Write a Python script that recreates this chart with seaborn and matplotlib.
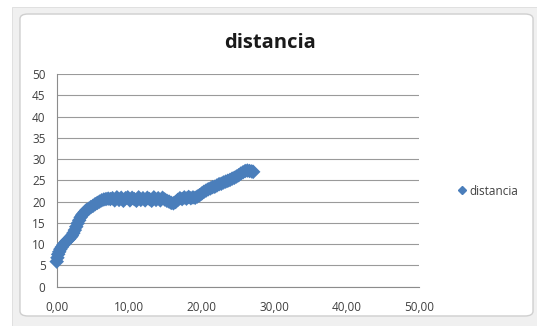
import numpy as np
import pandas as pd
import matplotlib
matplotlib.use("Agg")
import matplotlib.pyplot as plt
from matplotlib.patches import Rectangle, FancyBboxPatch
from matplotlib.ticker import FuncFormatter
import seaborn as sns

# 数据
x_vals = [0.0, 0.1, 0.2, 0.35, 0.5, 0.7, 0.9, 1.1, 1.3, 1.5, 1.7, 1.9, 2.1, 2.3, 2.5, 2.7, 2.9,
          3.1, 3.3, 3.5, 3.7, 3.9, 4.1, 4.4, 4.7, 5.0, 5.3, 5.6, 5.9, 6.2, 6.5, 6.8, 7.1, 7.4,
          7.7, 8.0, 8.3, 8.6, 8.9, 9.2, 9.5, 9.8, 10.1, 10.4, 10.7, 11.0, 11.3, 11.6, 11.9,
          12.2, 12.5, 12.8, 13.1, 13.4, 13.7, 14.0, 14.3, 14.6, 14.9, 15.2, 15.5,
          15.8, 16.1, 16.4, 16.7, 17.0, 17.3, 17.6, 17.9, 18.2, 18.5, 18.8, 19.1, 19.4,
          19.7, 20.0, 20.3, 20.6, 20.9, 21.2, 21.5, 21.8, 22.1, 22.4, 22.7, 23.0, 23.3,
          23.6, 23.9, 24.2, 24.5, 24.8, 25.1, 25.4, 25.7, 26.0, 26.3, 26.6, 26.9, 27.1]
y_vals = [5.9, 6.8, 7.6, 8.2, 8.8, 9.3, 9.8, 10.2, 10.6, 10.9, 11.2, 11.6, 12.0, 12.6, 13.3, 14.1, 14.9,
          15.6, 16.3, 16.8, 17.2, 17.6, 18.0, 18.3, 18.7, 19.0, 19.4, 19.7, 20.0, 20.3, 20.5, 20.6, 20.7, 20.6,
          20.8, 20.3, 21.0, 20.4, 20.9, 20.2, 20.8, 21.0, 20.3, 20.9, 20.6, 20.2, 21.0, 20.4, 20.8,
          20.3, 20.9, 20.6, 20.2, 21.0, 20.4, 20.8, 20.3, 20.9, 20.5, 20.2, 20.0,
          19.7, 19.6, 19.9, 20.4, 20.8, 20.6, 21.0, 20.7, 21.1, 20.8, 21.0, 20.9, 21.2,
          21.5, 21.9, 22.3, 22.6, 22.9, 23.1, 23.4, 23.5, 23.8, 24.1, 24.2, 24.5, 24.7,
          24.9, 25.1, 25.4, 25.6, 25.9, 26.2, 26.6, 26.9, 27.2, 27.3, 27.2, 27.1, 27.0]
serie = "distancia"
x_ticks = [0, 10, 20, 30, 40, 50]
y_ticks = [0, 5, 10, 15, 20, 25, 30, 35, 40, 45, 50]

df = pd.DataFrame({"x": x_vals, "y": y_vals, "serie": serie})

sns.set_style("white")
plt.rcParams['font.family'] = ['Open Sans', 'DejaVu Sans']

fig = plt.figure(figsize=(5.37, 3.26), dpi=100, facecolor="white")

# marco estilo Excel
fig.patches.append(Rectangle((0.0223, 0), 1, 0.9785, transform=fig.transFigure,
                             facecolor="#f0f0f0", edgecolor="#dcdcdc", linewidth=0.6, zorder=-3))
fig.patches.append(FancyBboxPatch((0.0372, 0.0307), 0.9554, 0.9263,
                                  boxstyle="round,pad=0,rounding_size=0.015",
                                  transform=fig.transFigure, facecolor="white",
                                  edgecolor="#cfcfcf", linewidth=1.0, zorder=-2))

ax = fig.add_axes([0.1056, 0.1206, 0.675, 0.6524])
ax.set_facecolor("none")

sns.scatterplot(data=df, x="x", y="y", hue="serie", palette=["#4a7ebb"], marker="D",
                s=55, edgecolor="#4a7ebb", linewidth=0, ax=ax, legend=False, zorder=3,
                clip_on=False)

ax.set_xlim(0, 50)
ax.set_ylim(0, 50)
ax.set_xticks(x_ticks)
ax.set_yticks(y_ticks)
ax.xaxis.set_major_formatter(FuncFormatter(lambda v, p: f"{v:.2f}".replace(".", ",")))
ax.yaxis.set_major_formatter(FuncFormatter(lambda v, p: f"{int(v)}"))
ax.set_xlabel("")
ax.set_ylabel("")

ax.yaxis.grid(True, color="#9a9a9a", linewidth=0.8)
ax.xaxis.grid(False)
for s in ["top", "right"]:
    ax.spines[s].set_visible(False)
for s in ["left", "bottom"]:
    ax.spines[s].set_color("#8c8c8c")
    ax.spines[s].set_linewidth(0.8)
ax.tick_params(axis="both", direction="out", length=4, width=0.8, color="#8c8c8c",
               labelsize=8.5, labelcolor="#404040")
ax.tick_params(axis="y", pad=4)
ax.tick_params(axis="x", pad=6)

fig.text(0.502, 0.868, "distancia", ha="center", va="center", fontsize=14.5,
         fontweight="bold", color="#1a1a1a")

handle = plt.Line2D([], [], marker="D", color="#4a7ebb", linestyle="none", markersize=4.5)
fig.legend([handle], [serie], loc="center left", bbox_to_anchor=(0.845, 0.414),
           frameon=False, fontsize=8.5, handlelength=0.6, handletextpad=0.3,
           labelcolor="#404040", borderaxespad=0)

fig.savefig("out.png", dpi=100)
